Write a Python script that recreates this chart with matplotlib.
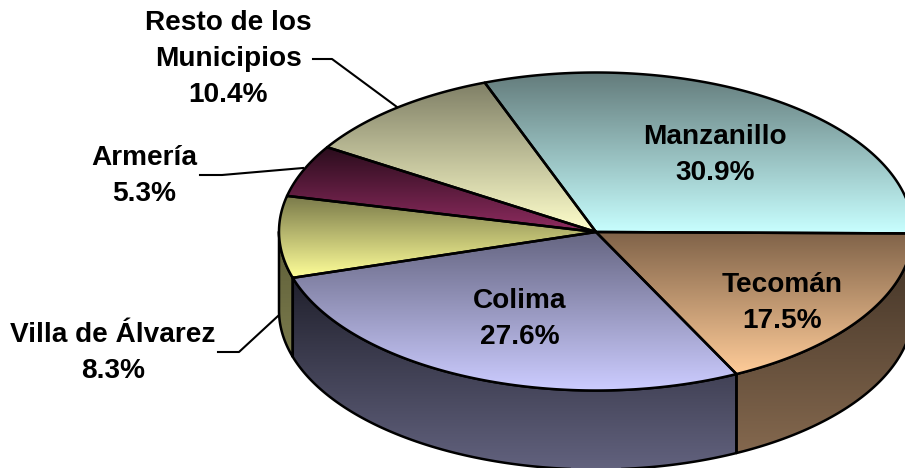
import numpy as np
import matplotlib
matplotlib.use('Agg')
import matplotlib.pyplot as plt
from matplotlib.colors import LinearSegmentedColormap
from matplotlib.patches import Polygon

names = ['Manzanillo', 'Resto de los\nMunicipios', 'Armería', 'Villa de Álvarez', 'Colima', 'Tecomán']
values = [30.9, 10.4, 5.3, 8.3, 27.6, 17.5]
top_dark = ['#637b7b', '#7f7f66', '#2a0c1c', '#7a7a4a', '#646480', '#7f6248']
top_light = ['#c8ffff', '#ffffcc', '#8f2c60', '#ffff99', '#ccccff', '#ffcc99']
wall_dark = ['#000000', '#000000', '#000000', '#5e5e38', '#20202c', '#3e3024']
wall_light = ['#000000', '#000000', '#000000', '#7a7a4c', '#62627e', '#84684e']

# pie geometry, in pixels of the picture
cx, cy = 596, 231.5
a, b = 317, 159
depth = 79
start = -0.7

# label placement
label_xy = [(715, 155), (228, 59), (144, 176), (113, 353), (520, 319), (782, 303)]
leaders = [None,
           [(313, 59), (332, 59), (397, 107)],
           [(200, 175), (222, 175), (303, 168)],
           [(218, 352), (239, 352), (278, 316)],
           None, None]

plt.rcParams['font.family'] = ['Liberation Sans', 'DejaVu Sans']

fig = plt.figure(figsize=(9.05, 4.68), dpi=100)
ax = fig.add_axes([0, 0, 1, 1])


def arc(t0, t1):
    t = np.radians(np.linspace(t0, t1, 200))
    return np.column_stack([cx + a * np.cos(t), cy - b * np.sin(t)])


def fill(pts, c0, c1, z):
    # vertical gradient, dark on top, clipped to the shape
    cmap = LinearSegmentedColormap.from_list('g', [c0, c1])
    y0, y1 = pts[:, 1].min(), pts[:, 1].max()
    x0, x1 = pts[:, 0].min(), pts[:, 0].max()
    im = ax.imshow(np.linspace(0, 1, 256).reshape(-1, 1), cmap=cmap, aspect='auto',
                   extent=(x0, x1, y1, y0), zorder=z, interpolation='bilinear')
    poly = Polygon(pts, closed=True, facecolor='none', edgecolor='black', linewidth=1.8,
                   joinstyle='round', zorder=z + 0.5)
    ax.add_patch(poly)
    im.set_clip_path(poly)


edges = start + np.cumsum([0] + values) * 3.6

# front walls first
for i in range(len(values)):
    t0, t1 = max(edges[i], 180), min(edges[i + 1], 360)
    if t1 <= t0:
        continue
    rim = arc(t0, t1)
    low = rim[::-1] + [0, depth]
    fill(np.vstack([rim, low]), wall_dark[i], wall_light[i], 2)

# then the top slices
for i in range(len(values)):
    rim = arc(edges[i], edges[i + 1])
    fill(np.vstack([[cx, cy + 0.5], rim]), top_dark[i], top_light[i], 3)

for i in range(len(values)):
    if leaders[i]:
        xs, ys = zip(*leaders[i])
        ax.plot(xs, ys, color='black', lw=1.5, zorder=5)
    ax.text(label_xy[i][0], label_xy[i][1], '%s\n%.1f%%' % (names[i], values[i]),
            ha='center', va='center', fontsize=20.2, fontweight='bold',
            linespacing=1.52, color='black', zorder=6)

ax.set_xlim(0, 905)
ax.set_ylim(468, 0)
ax.axis('off')
fig.savefig('out.png', dpi=100)
